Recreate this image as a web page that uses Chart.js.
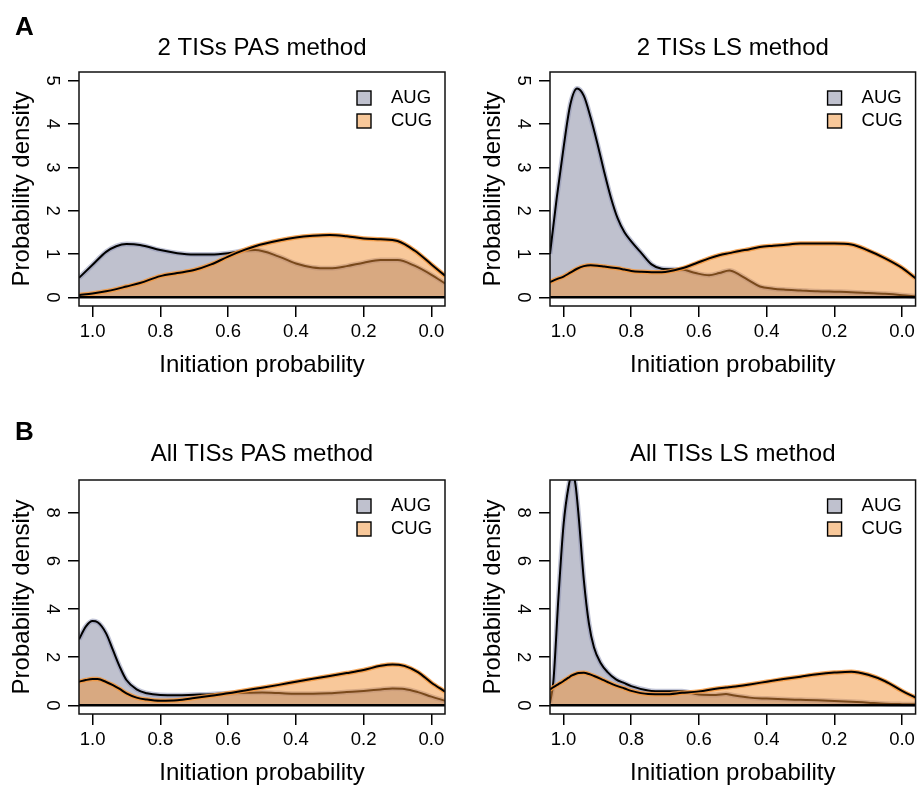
<!DOCTYPE html>
<html>
<head>
<meta charset="utf-8">
<script src="https://cdn.jsdelivr.net/npm/chart.js@4.4.0/dist/chart.umd.min.js"></script>
<style>
  html, body { margin: 0; padding: 0; background: #fff; overflow: hidden; }
  .panel { position: absolute; }
  canvas { display: block; }
</style>
</head>
<body>
<div class="panel" style="left:0;top:0"><canvas id="twoPas" width="460" height="380"></canvas></div>
<div class="panel" style="left:471px;top:0"><canvas id="twoLs" width="448" height="380"></canvas></div>
<div class="panel" style="left:0;top:408px"><canvas id="allPas" width="460" height="380"></canvas></div>
<div class="panel" style="left:471px;top:408px"><canvas id="allLs" width="448" height="380"></canvas></div>
<script>
// densities (x = initiation probability)
const seriesNames = ["AUG", "CUG"];

const xTwoPas = [1.04, 1.0, 0.96, 0.93, 0.90, 0.86, 0.80, 0.75, 0.70, 0.65, 0.60, 0.55, 0.52, 0.45, 0.40, 0.35, 0.30, 0.25, 0.20, 0.15, 0.10, 0.05, 0.0, -0.04];
const augTwoPas = [0.45, 0.75, 1.05, 1.18, 1.23, 1.21, 1.09, 1.02, 0.99, 0.99, 1.02, 1.08, 1.09, 0.94, 0.78, 0.69, 0.67, 0.72, 0.80, 0.86, 0.86, 0.73, 0.52, 0.32];
const cugTwoPas = [0.05, 0.09, 0.14, 0.19, 0.25, 0.33, 0.49, 0.56, 0.63, 0.76, 0.94, 1.10, 1.18, 1.31, 1.38, 1.42, 1.44, 1.41, 1.36, 1.34, 1.30, 1.08, 0.76, 0.50];

const xTwoLs = [1.04, 1.02, 1.0, 0.98, 0.96, 0.94, 0.92, 0.90, 0.88, 0.86, 0.84, 0.82, 0.80, 0.77, 0.74, 0.71, 0.65, 0.61, 0.57, 0.54, 0.51, 0.48, 0.45, 0.42, 0.38, 0.35, 0.30, 0.25, 0.20, 0.15, 0.10, 0.05, 0.0, -0.04];
const augTwoLs = [1.0, 2.3, 3.45, 4.45, 4.82, 4.65, 4.15, 3.55, 2.9, 2.3, 1.82, 1.5, 1.29, 1.02, 0.76, 0.66, 0.64, 0.56, 0.51, 0.56, 0.62, 0.52, 0.38, 0.25, 0.2, 0.18, 0.16, 0.14, 0.13, 0.12, 0.1, 0.08, 0.05, 0.02];
const cugTwoLs = [0.35, 0.42, 0.48, 0.57, 0.66, 0.72, 0.74, 0.73, 0.71, 0.69, 0.67, 0.64, 0.61, 0.59, 0.58, 0.58, 0.67, 0.78, 0.90, 0.97, 1.02, 1.07, 1.11, 1.16, 1.19, 1.21, 1.24, 1.24, 1.24, 1.22, 1.08, 0.90, 0.68, 0.44];

const xAllPas = [1.04, 1.02, 1.0, 0.985, 0.96, 0.94, 0.92, 0.90, 0.87, 0.84, 0.80, 0.75, 0.70, 0.65, 0.60, 0.55, 0.50, 0.45, 0.40, 0.35, 0.30, 0.25, 0.20, 0.15, 0.115, 0.08, 0.04, 0.0, -0.04];
const augAllPas = [2.74, 3.27, 3.50, 3.45, 2.99, 2.30, 1.61, 1.05, 0.66, 0.50, 0.43, 0.42, 0.44, 0.46, 0.50, 0.52, 0.53, 0.51, 0.48, 0.48, 0.50, 0.55, 0.60, 0.66, 0.70, 0.68, 0.55, 0.36, 0.19];
const cugAllPas = [0.98, 1.05, 1.09, 1.09, 0.97, 0.84, 0.68, 0.50, 0.32, 0.24, 0.19, 0.21, 0.30, 0.40, 0.50, 0.62, 0.73, 0.85, 0.98, 1.10, 1.22, 1.34, 1.47, 1.64, 1.70, 1.64, 1.38, 0.94, 0.57];

const xAllLs = [1.04, 1.03, 1.015, 1.0, 0.985, 0.975, 0.965, 0.955, 0.94, 0.925, 0.91, 0.89, 0.87, 0.845, 0.82, 0.80, 0.75, 0.70, 0.65, 0.60, 0.55, 0.52, 0.50, 0.45, 0.40, 0.35, 0.30, 0.25, 0.20, 0.15, 0.10, 0.05, 0.0, -0.04];
const augAllLs = [0.1, 1.0, 4.5, 7.5, 9.1, 9.6, 9.2, 7.8, 5.2, 3.4, 2.4, 1.75, 1.38, 1.08, 0.92, 0.80, 0.62, 0.58, 0.58, 0.45, 0.43, 0.47, 0.42, 0.32, 0.28, 0.25, 0.23, 0.21, 0.18, 0.15, 0.11, 0.07, 0.05, 0.04];
const cugAllLs = [0.66, 0.75, 0.88, 1.01, 1.15, 1.24, 1.30, 1.34, 1.35, 1.30, 1.22, 1.10, 0.97, 0.82, 0.70, 0.60, 0.47, 0.46, 0.52, 0.58, 0.69, 0.74, 0.77, 0.87, 0.98, 1.09, 1.19, 1.29, 1.36, 1.40, 1.27, 1.0, 0.60, 0.32];

// axes
const xLimits = [1.04, -0.04];
const xTicks = [1.0, 0.8, 0.6, 0.4, 0.2, 0.0];
const yLimitsTwo = [-0.2, 5.2];
const yTicksTwo = [0, 1, 2, 3, 4, 5];
const yLimitsAll = [-0.36, 9.36];
const yTicksAll = [0, 2, 4, 6, 8];

const FONT = '"Liberation Sans", Arial, Helvetica, sans-serif';
const augFill = "rgba(127,131,157,0.5)";
const augHalo = "rgba(140,145,178,0.55)";
const cugFill = "rgba(241,145,53,0.5)";
const cugHalo = "rgba(245,150,60,0.85)";
const legendFills = ["#bfc1ce", "#f8c89a"];

Chart.defaults.font.family = FONT;
Chart.defaults.color = "#000";

const panelDecor = {
  id: "panelDecor",
  afterDraw(chart, args, opts) {
    const { ctx, chartArea: a } = chart;
    ctx.save();
    ctx.strokeStyle = "#111";
    ctx.lineWidth = 1.5;
    ctx.strokeRect(a.left, a.top, a.right - a.left, a.bottom - a.top);

    ctx.fillStyle = "#000";
    ctx.font = "24px " + FONT;
    ctx.textAlign = "center";
    ctx.textBaseline = "middle";
    ctx.fillText(opts.title, (a.left + a.right) / 2, a.top - opts.titleGap);

    if (opts.letter) {
      ctx.font = "bold 26px " + FONT;
      ctx.textAlign = "left";
      ctx.textBaseline = "alphabetic";
      ctx.fillText(opts.letter, 15, opts.letterY);
    }

    ctx.font = "18.5px " + FONT;
    ctx.textAlign = "left";
    ctx.textBaseline = "middle";
    seriesNames.forEach((name, i) => {
      const cy = a.top + 26 + i * 23;
      ctx.fillStyle = legendFills[i];
      ctx.fillRect(a.right - 88, cy - 7, 14, 14);
      ctx.strokeStyle = "#000";
      ctx.lineWidth = 1.4;
      ctx.strokeRect(a.right - 88, cy - 7, 14, 14);
      ctx.fillStyle = "#000";
      ctx.fillText(name, a.right - 54, cy);
    });
    ctx.restore();
  }
};

function toPoints(xs, ys) {
  return xs.map((x, i) => ({ x: x, y: ys[i] }));
}

function makeDatasets(xs, aug, cug) {
  return [
    { label: "AUG", data: toPoints(xs, aug), fill: "origin", backgroundColor: augFill, borderColor: augHalo, borderWidth: 5, order: 5 },
    { label: "AUG", data: toPoints(xs, aug), fill: false, borderColor: "#000", borderWidth: 2, order: 4 },
    { label: "CUG", data: toPoints(xs, cug), fill: "origin", backgroundColor: cugFill, borderColor: cugHalo, borderWidth: 4.5, order: 3 },
    { label: "CUG", data: toPoints(xs, cug), fill: false, borderColor: "#000", borderWidth: 2, order: 2 },
    { label: "base", data: [{ x: xLimits[0], y: 0 }, { x: xLimits[1], y: 0 }], fill: false, borderColor: "#000", borderWidth: 2.5, order: 1, cubicInterpolationMode: "default", tension: 0 }
  ];
}

const tickGrid = { drawOnChartArea: false, drawTicks: true, tickLength: 11, color: "#000", lineWidth: 1.5 };

function makeScales(yLimits, yTicks) {
  return {
    x: {
      type: "linear",
      reverse: true,
      min: xLimits[1],
      max: xLimits[0],
      afterBuildTicks: s => { s.ticks = xTicks.map(v => ({ value: v })); },
      afterFit: s => { s.height = 74; },
      grid: tickGrid,
      border: { display: false },
      ticks: { padding: 4, autoSkip: false, maxRotation: 0, font: { size: 18.5 }, color: "#000", callback: v => v.toFixed(1) },
      title: { display: true, text: "Initiation probability", font: { size: 24 }, color: "#000", padding: { top: 0, bottom: 0 } }
    },
    y: {
      type: "linear",
      min: yLimits[0],
      max: yLimits[1],
      afterBuildTicks: s => { s.ticks = yTicks.map(v => ({ value: v })); },
      afterFit: s => { s.width = 79; },
      grid: tickGrid,
      border: { display: false },
      ticks: { padding: 11, autoSkip: false, minRotation: -90, maxRotation: -90, crossAlign: "center", font: { size: 18.5 }, color: "#000", callback: v => String(v) },
      title: { display: true, text: "Probability density", font: { size: 24 }, color: "#000", padding: { top: 7.6, bottom: 0 } }
    }
  };
}

function drawPanel(id, xs, aug, cug, yLimits, yTicks, decor, rightPad) {
  new Chart(document.getElementById(id), {
    type: "line",
    data: { datasets: makeDatasets(xs, aug, cug) },
    options: {
      responsive: false,
      animation: false,
      events: [],
      layout: { padding: { left: 0, right: rightPad, top: 72, bottom: 0 } },
      datasets: { line: { pointRadius: 0, cubicInterpolationMode: "monotone", clip: 0 } },
      scales: makeScales(yLimits, yTicks),
      plugins: {
        legend: { display: false },
        tooltip: { enabled: false },
        panelDecor: decor
      }
    },
    plugins: [panelDecor]
  });
}

drawPanel("twoPas", xTwoPas, augTwoPas, cugTwoPas, yLimitsTwo, yTicksTwo,
  { title: "2 TISs PAS method", titleGap: 23.5, letter: "A", letterY: 35 }, 15);
drawPanel("twoLs", xTwoLs, augTwoLs, cugTwoLs, yLimitsTwo, yTicksTwo,
  { title: "2 TISs LS method", titleGap: 23.5 }, 3);
drawPanel("allPas", xAllPas, augAllPas, cugAllPas, yLimitsAll, yTicksAll,
  { title: "All TISs PAS method", titleGap: 25.5, letter: "B", letterY: 32 }, 15);
drawPanel("allLs", xAllLs, augAllLs, cugAllLs, yLimitsAll, yTicksAll,
  { title: "All TISs LS method", titleGap: 25.5 }, 3);
</script>
</body>
</html>
